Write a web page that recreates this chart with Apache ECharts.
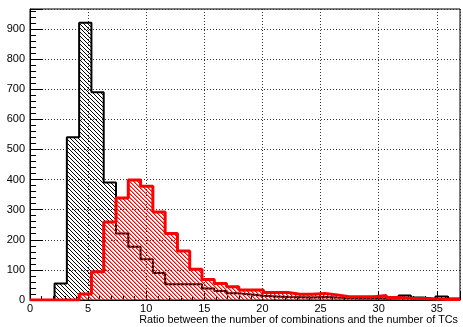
<!DOCTYPE html>
<html>
<head>
<meta charset="utf-8">
<script src="https://cdn.jsdelivr.net/npm/echarts@6/dist/echarts.min.js"></script>
<style>
html,body{margin:0;padding:0;background:#fff;}
#chart{width:463px;height:327px;}
</style>
</head>
<body>
<div id="chart"></div>
<script>
// histogram binning (35 bins from 0 to 37)
var nBins = 35;
var xLow = 0;
var xHigh = 37;

// bin contents
var blackCounts = [0, 0, 55, 540, 920, 690, 390, 221, 177, 135, 90, 52, 52, 52, 38, 30, 22, 18, 14, 12, 10, 9, 8, 10, 8, 7, 6, 7, 5, 6, 15, 8, 3, 12, 5];
var redCounts = [0, 0, 0, 0, 20, 94, 259, 339, 398, 378, 292, 221, 163, 102, 68, 55, 44, 33, 33, 25, 25, 19, 19, 22, 17, 11, 11, 11, 15, 8, 6, 5, 3, 2, 2];

var xTicks = [0, 5, 10, 15, 20, 25, 30, 35];
var yTicks = [0, 100, 200, 300, 400, 500, 600, 700, 800, 900];
var xTitle = 'Ratio between the number of combinations and the number of TCs';

function stepData(counts){
    var w = (xHigh - xLow) / nBins;
    var d = [];
    for (var i = 0; i < counts.length; i++) {
        d.push([xLow + i * w, counts[i]]);
    }
    d.push([xHigh, counts[counts.length - 1]]);
    return d;
}

// diagonal "\\\" hatching like ROOT fill style
function hatch(color, size, soft){
    var c = document.createElement('canvas');
    c.width = size;
    c.height = size;
    var ctx = c.getContext('2d');
    ctx.fillStyle = color;
    for (var i = 0; i < size; i++) {
        ctx.globalAlpha = 1;
        ctx.fillRect(i, i, 1, 1);
        if (soft) {
            ctx.globalAlpha = soft;
            ctx.fillRect((i + 1) % size, i, 1, 1);
        }
    }
    return c;
}

var font = 'Liberation Sans';
var myChart = echarts.init(document.getElementById('chart'));

var option = {
    animation: false,
    backgroundColor: '#fff',
    title: {
        text: xTitle,
        right: 0,
        top: 310,
        textStyle: { fontFamily: font, fontSize: 10.8, fontWeight: 'normal', color: '#000' }
    },
    grid: {
        left: 30, right: 0, top: 9, bottom: 27,
        show: true, borderColor: '#000', borderWidth: 1
    },
    xAxis: {
        type: 'value',
        min: xLow,
        max: xHigh,
        interval: 5,
        axisLine: { show: true, onZero: false, lineStyle: { color: '#000', width: 1 } },
        axisTick: { inside: true, length: 9, lineStyle: { color: '#000' } },
        minorTick: { show: true, splitNumber: 5, length: 4, lineStyle: { color: '#000' } },
        axisLabel: {
            fontFamily: font, fontSize: 11, color: '#000', margin: 3,
            formatter: function(v){ return xTicks.indexOf(v) >= 0 ? String(v) : ''; }
        },
        splitLine: { show: true, lineStyle: { color: '#333', type: [1, 2], width: 1 } }
    },
    yAxis: {
        type: 'value',
        min: 0,
        max: 966,
        interval: 100,
        axisLine: { show: true, lineStyle: { color: '#000', width: 1 } },
        axisTick: { inside: true, length: 13, lineStyle: { color: '#000' } },
        minorTick: { show: true, splitNumber: 5, length: 6, lineStyle: { color: '#000' } },
        axisLabel: {
            fontFamily: font, fontSize: 11, color: '#000', margin: 5,
            formatter: function(v){ return yTicks.indexOf(v) >= 0 ? String(v) : ''; }
        },
        splitLine: { show: true, lineStyle: { color: '#333', type: [1, 2], width: 1 } }
    },
    series: [
        {
            name: 'black',
            type: 'line',
            step: 'end',
            symbol: 'none',
            data: stepData(blackCounts),
            lineStyle: { color: '#000', width: 2 },
            areaStyle: { color: { image: hatch('#000', 4, 0), repeat: 'repeat' }, opacity: 1, origin: 'start' },
            z: 2
        },
        {
            name: 'red',
            type: 'line',
            step: 'end',
            symbol: 'none',
            data: stepData(redCounts),
            lineStyle: { color: '#ff0000', width: 3 },
            areaStyle: { color: { image: hatch('#ff0000', 4, 0.45), repeat: 'repeat' }, opacity: 1, origin: 'start' },
            z: 3
        }
    ]
};

myChart.setOption(option);
</script>
</body>
</html>
